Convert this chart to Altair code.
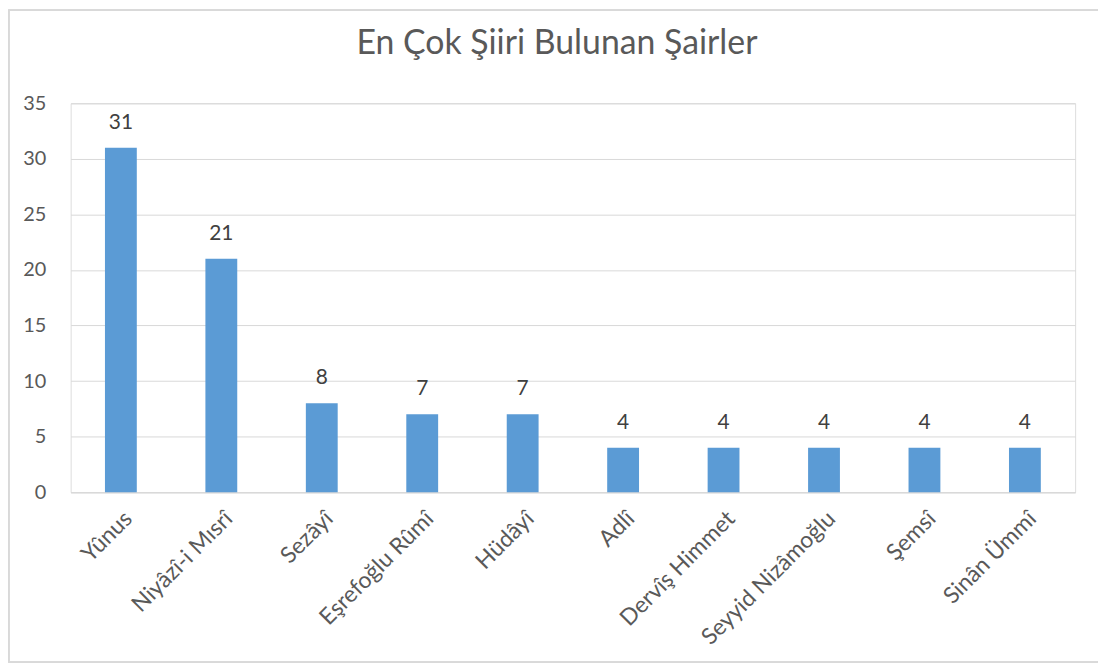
import altair as alt
import pandas as pd

poets = ["Yûnus", "Niyâzî-i Mısrî", "Sezâyî", "Eşrefoğlu Rûmî", "Hüdâyî",
         "Adlî", "Dervîş Himmet", "Seyyid Nizâmoğlu", "Şemsî", "Sinân Ümmî"]
counts = [31, 21, 8, 7, 7, 4, 4, 4, 4, 4]
y_ticks = [0, 5, 10, 15, 20, 25, 30, 35]

df = pd.DataFrame({"poet": poets, "count": counts})
FONT = "Lato"
BORDER = "#d9d9d9"

x = alt.X("poet:N", sort=poets, title=None,
          scale=alt.Scale(paddingInner=0.683, paddingOuter=0.3415),
          axis=alt.Axis(labelAngle=-45, labelAlign="right", labelBaseline="top",
                        labelFontSize=23, labelColor="#595959", labelFont=FONT,
                        labelPadding=15, ticks=False, domain=True,
                        domainColor="#d9d9d9", domainWidth=1.5, grid=False))
y = alt.Y("count:Q", title=None,
          scale=alt.Scale(domain=[0, 35], nice=False),
          axis=alt.Axis(values=y_ticks, labelFontSize=20, labelColor="#595959",
                        labelFont=FONT, labelPadding=25, ticks=False, domain=False,
                        grid=True, gridColor="#d9d9d9", gridWidth=1))

bars = alt.Chart(df).mark_bar(color="#5b9bd5").encode(x=x, y=y)
labels = alt.Chart(df).mark_text(baseline="bottom", dy=-15, fontSize=21,
                                 color="#404040", font=FONT).encode(
    x=alt.X("poet:N", sort=poets), y="count:Q", text="count:Q")

# chart frame (top, left and bottom edges; the right edge lies outside the picture)
frame_top = alt.Chart(df).mark_rule(stroke=BORDER, strokeWidth=1.5, clip=False).encode(
    x=alt.value(-62.5), x2=alt.value(1033), y=alt.value(-93.5))
frame_left = alt.Chart(df).mark_rule(stroke=BORDER, strokeWidth=1.5, clip=False).encode(
    x=alt.value(-62.5), y=alt.value(-93.5), y2=alt.value(562))
frame_bottom = alt.Chart(df).mark_rule(stroke=BORDER, strokeWidth=1.5, clip=False).encode(
    x=alt.value(-62.5), x2=alt.value(1033), y=alt.value(562))

chart = alt.layer(frame_top, frame_left, frame_bottom, bars, labels).properties(
    width=1010, height=391,
    title=alt.Title("En Çok Şiiri Bulunan Şairler", fontSize=34, font=FONT,
                    fontWeight="normal", color="#595959", offset=-52,
                    frame="group", dx=-16),
    padding={"left": 63, "top": 94, "right": 23, "bottom": 172},
    autosize=alt.AutoSizeParams(type="none"),
).configure_view(stroke=None).configure(background="white")

chart.save("out.html", embed_options={"renderer": "svg", "actions": False})
